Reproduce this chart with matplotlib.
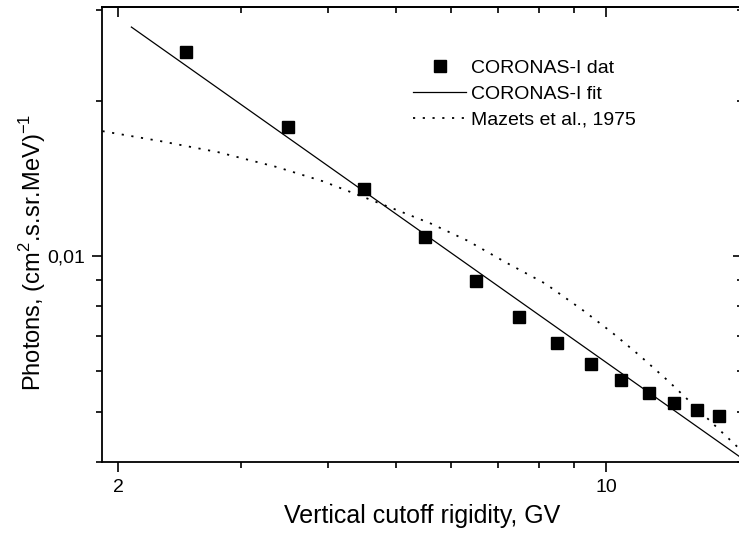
import numpy as np
import matplotlib
matplotlib.use('Agg')
from matplotlib import pyplot as plt
from matplotlib.ticker import LogLocator, NullFormatter, FixedLocator, FixedFormatter

plt.rcParams['font.family'] = ['Liberation Sans', 'DejaVu Sans']
plt.rcParams['mathtext.fontset'] = 'custom'
plt.rcParams['mathtext.rm'] = 'Liberation Sans'

# CORONAS-I measured points
rigidity = [2.5, 3.5, 4.5, 5.5, 6.5, 7.5, 8.5, 9.5, 10.5, 11.5, 12.5, 13.5, 14.5]
photons = [0.0249, 0.0178, 0.01349, 0.01089, 0.00898, 0.00765, 0.0068,
           0.0062, 0.00577, 0.00544, 0.0052, 0.00504, 0.0049]

# power-law fit (straight on log-log), end points
fit_x = [2.09, 16.0]
fit_y = [0.0278, 0.00398]

# Mazets et al., 1975 curve
mazets_x = [1.90, 2.30, 2.78, 3.38, 3.93, 4.90, 5.60, 6.32, 7.19, 8.18,
            9.27, 10.2, 11.18, 12.27, 14.42, 15.41, 16.0]
mazets_y = [0.01748, 0.01672, 0.01592, 0.01489, 0.01398, 0.01245, 0.01159,
            0.01074, 0.00973, 0.00886, 0.00786, 0.00712, 0.00642, 0.00574,
            0.00466, 0.00428, 0.00408]

xticks = [2, 10]
xticklabels = ['2', '10']
yticks = [0.01]
yticklabels = ['0,01']

fig = plt.figure(figsize=(7.39, 5.34), dpi=100)
ax = fig.add_axes([102 / 739, 72 / 534, 641 / 739, 455 / 534])

ax.plot(rigidity, photons, 's', color='black', ms=8, label='CORONAS-I dat')
ax.plot(fit_x, fit_y, '-', color='black', lw=0.9, label='CORONAS-I fit')
ax.plot(mazets_x, mazets_y, color='black', lw=1.3, dashes=(1.2, 4.2),
        label='Mazets et al., 1975')

ax.set_xscale('log')
ax.set_yscale('log')
ax.set_xlim(1.897, 15.7)
ax.set_ylim(0.004, 0.0304)

ax.xaxis.set_major_locator(FixedLocator(xticks))
ax.xaxis.set_major_formatter(FixedFormatter(xticklabels))
ax.xaxis.set_minor_locator(LogLocator(base=10, subs=np.arange(2, 10)))
ax.xaxis.set_minor_formatter(NullFormatter())
ax.yaxis.set_major_locator(FixedLocator(yticks))
ax.yaxis.set_major_formatter(FixedFormatter(yticklabels))
ax.yaxis.set_minor_locator(LogLocator(base=10, subs=np.arange(2, 10)))
ax.yaxis.set_minor_formatter(NullFormatter())

ax.tick_params(which='both', direction='out', width=1.2, labelsize=14, pad=5)
ax.tick_params(which='major', length=7)
ax.tick_params(which='minor', length=4)
for s in ax.spines.values():
    s.set_linewidth(1.3)

# top / right ticks point inward
top = ax.secondary_xaxis('top')
top.xaxis.set_major_locator(FixedLocator(xticks))
top.xaxis.set_minor_locator(LogLocator(base=10, subs=np.arange(2, 10)))
top.xaxis.set_major_formatter(NullFormatter())
top.xaxis.set_minor_formatter(NullFormatter())
top.tick_params(which='both', direction='in', width=1.2)
top.tick_params(which='major', length=7)
top.tick_params(which='minor', length=4)
top.spines['top'].set_linewidth(1.3)
right = ax.secondary_yaxis('right')
right.yaxis.set_major_locator(FixedLocator(yticks))
right.yaxis.set_minor_locator(LogLocator(base=10, subs=np.arange(2, 10)))
right.yaxis.set_major_formatter(NullFormatter())
right.yaxis.set_minor_formatter(NullFormatter())
right.tick_params(which='both', direction='in', width=1.2)
right.tick_params(which='major', length=7)
right.tick_params(which='minor', length=4)

ax.set_xlabel('Vertical cutoff rigidity, GV', fontsize=18, labelpad=6)
ax.set_ylabel('Photons, (cm$^2$.s.sr.MeV)$^{-1}$', fontsize=17)
ax.yaxis.set_label_coords(-0.085, 0.46)

ax.legend(loc='upper left', bbox_to_anchor=(0.4735, 0.902), frameon=False,
          fontsize=14, handlelength=2.7, handletextpad=0.26,
          labelspacing=0.42, borderaxespad=0)

fig.savefig('out.png', dpi=100)
